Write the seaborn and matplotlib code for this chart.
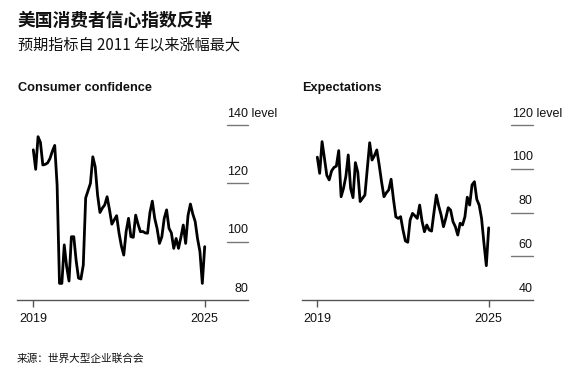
import numpy as np
import pandas as pd
import matplotlib
matplotlib.use("Agg")
import matplotlib.pyplot as plt
import seaborn as sns

# ---- data (monthly, May 2019 - May 2025) ----
confidence = [131.5, 124.8, 136.0, 134.0, 126.3, 126.5, 127.0, 128.5, 131.0, 133.0,
              119.4, 85.7, 85.7, 98.9, 91.5, 86.5, 101.7, 101.7, 93.5, 87.5,
              87.2, 92.0, 115.0, 117.5, 120.0, 129.1, 125.7, 116.0, 110.0, 111.5,
              112.6, 115.4, 111.0, 106.0, 107.5, 108.9, 103.0, 98.5, 95.4, 103.5,
              108.0, 101.7, 101.5, 109.1, 106.0, 103.4, 103.5, 103.0, 102.9, 110.0,
              113.9, 108.0, 104.5, 99.4, 101.7, 108.0, 110.9, 104.6, 103.0, 97.7,
              101.1, 97.7, 101.5, 105.7, 99.4, 109.0, 112.9, 109.5, 106.9, 101.0,
              96.6, 85.7, 98.3]
expectations = [105.3, 97.9, 112.4, 104.8, 97.0, 94.9, 99.0, 100.6, 101.2, 108.3,
                87.2, 91.0, 96.5, 106.3, 91.0, 86.8, 102.8, 98.5, 85.0, 86.5,
                88.0, 100.0, 111.9, 104.0, 106.0, 108.6, 101.7, 94.0, 87.2, 89.0,
                90.3, 95.2, 86.0, 78.0, 77.3, 78.1, 72.0, 67.0, 66.4, 76.6,
                79.6, 78.5, 77.3, 83.4, 76.0, 71.2, 74.3, 72.0, 71.5, 80.0,
                88.0, 83.0, 78.9, 73.5, 77.5, 82.2, 81.1, 75.8, 73.5, 69.7,
                75.1, 74.3, 78.0, 87.0, 83.4, 92.6, 94.1, 86.0, 83.4, 77.3,
                66.0, 55.7, 73.0]
months = pd.date_range("2019-05-01", periods=73, freq="MS")
x_tick_labels = ["2019", "2025"]
panel_titles = ["Consumer confidence", "Expectations"]
left_yticks = [80, 100, 120, 140]
right_yticks = [40, 60, 80, 100, 120]

df = pd.DataFrame({"t": np.arange(len(months)), "month": months,
                   "confidence": confidence, "expectations": expectations})

sns.set_theme(style="white")
plt.rcParams["font.family"] = ["Liberation Sans", "Noto Sans CJK SC", "DejaVu Sans"]

W, H = 572, 381
fig = plt.figure(figsize=(W / 100, H / 100), dpi=100)

def fx(px):
    return px / W

def fy(py):
    return 1 - py / H

panels = [
    dict(col="confidence", left=17.3, right=248.0, x0=33.3, x1=204.7,
         ylim=(80, 140), ticks=left_yticks, gstart=227.0, title=panel_titles[0]),
    dict(col="expectations", left=301.7, right=532.7, x0=317.3, x1=488.7,
         ylim=(40, 120), ticks=right_yticks, gstart=511.0, title=panel_titles[1]),
]

top_px, base_px = 125.0, 300.0
n = len(months) - 1
for p in panels:
    ax = fig.add_axes([fx(p["left"]), fy(base_px), (p["right"] - p["left"]) / W,
                       (base_px - top_px) / H])
    ax.set_facecolor("none")
    sns.lineplot(data=df, x="t", y=p["col"], ax=ax, color="black", linewidth=2.0)
    ppu = (p["x1"] - p["x0"]) / n
    ax.set_xlim((p["left"] - p["x0"]) / ppu, (p["right"] - p["x0"]) / ppu)
    ax.set_ylim(*p["ylim"])
    for s in ["top", "right", "left"]:
        ax.spines[s].set_visible(False)
    ax.spines["bottom"].set_color("#555555")
    ax.spines["bottom"].set_linewidth(1.0)
    ax.set_xticks([0, n])
    ax.set_xticklabels(x_tick_labels, fontsize=9, color="#111111")
    ax.tick_params(axis="x", length=5, width=1.0, color="#555555", pad=4, bottom=True)
    ax.set_yticks([])
    ax.set_xlabel("")
    ax.set_ylabel("")
    gx0 = (p["gstart"] - p["left"]) / (p["right"] - p["left"])
    tr = ax.get_yaxis_transform()
    for i, v in enumerate(p["ticks"]):
        if v != p["ylim"][0]:
            ax.plot([gx0, 1.0], [v, v], transform=tr, color="#777777", lw=1.0,
                    clip_on=False, zorder=1)
        ax.annotate(str(v), xy=(1.0, v), xycoords=tr, xytext=(0, 8.2),
                    textcoords="offset points", ha="right", va="center",
                    fontsize=9, color="#111111", annotation_clip=False)
    top = p["ticks"][-1]
    ax.annotate(" level", xy=(1.0, top), xycoords=tr, xytext=(0, 8.2),
                textcoords="offset points", ha="left", va="center",
                fontsize=9, color="#111111", annotation_clip=False)
    fig.text(fx(p["left"] + 0.7), fy(88), p["title"], fontsize=9.2,
             fontweight="bold", ha="left", va="center", color="#111111")

cjk = ["Noto Sans CJK SC", "DejaVu Sans"]
fig.text(fx(18), fy(20.5), "美国消费者信心指数反弹", fontsize=12.8, fontweight="bold",
         family=cjk, ha="left", va="center", color="#111111")
fig.text(fx(18), fy(45), "预期指标自 2011 年以来涨幅最大", fontsize=10.9,
         family=cjk, ha="left", va="center", color="#111111")
fig.text(fx(17), fy(359), "来源：世界大型企业联合会", fontsize=7.7,
         family=cjk, ha="left", va="center", color="#111111")

fig.savefig("out.png", dpi=100, facecolor="white")
